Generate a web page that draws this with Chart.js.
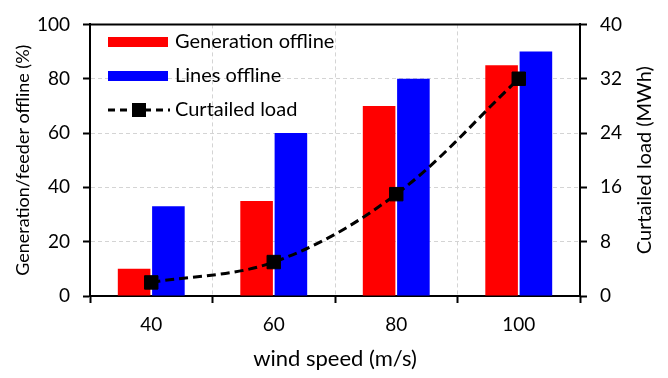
<!DOCTYPE html>
<html>
<head>
<meta charset="utf-8">
<script src="https://cdn.jsdelivr.net/npm/chart.js@4/dist/chart.umd.min.js"></script>
<style>
    html, body { margin: 0; padding: 0; background: #fff; }
    canvas { display: block; }
</style>
</head>
<body>
<canvas id="windChart" width="668" height="378"></canvas>
<script>
// data
const windSpeeds = ['40', '60', '80', '100'];
const generationOffline = [10, 35, 70, 85];   // %
const linesOffline = [33, 60, 80, 90];        // %
const curtailedLoad = [2, 5, 15, 32];         // MWh
const leftTicks = [0, 20, 40, 60, 80, 100];
const rightTicks = [0, 8, 16, 24, 32, 40];

const FONT = 'Lato';
const gridColor = '#d4d4d4';

// legend in the top left corner + right axis title + top frame line
const extrasPlugin = {
    id: 'extras',
    afterDraw(chart) {
        const ctx = chart.ctx;
        const area = chart.chartArea;
        const ds = chart.data.datasets;

        ctx.save();
        // top border of the plot
        ctx.strokeStyle = '#000';
        ctx.lineWidth = 2;
        ctx.beginPath();
        ctx.moveTo(area.left - 1, area.top);
        ctx.lineTo(area.right + 1, area.top);
        ctx.stroke();

        // legend
        ctx.font = '20px ' + FONT;
        ctx.textBaseline = 'middle';
        const lx = 108, tx = 175;
        const rows = [42, 76, 110];
        ctx.fillStyle = ds[0].backgroundColor;
        ctx.fillRect(lx, rows[0] - 5, 60, 10);
        ctx.fillStyle = ds[1].backgroundColor;
        ctx.fillRect(lx, rows[1] - 5, 60, 10);
        ctx.strokeStyle = '#000';
        ctx.lineWidth = 3;
        ctx.setLineDash([7, 5]);
        ctx.beginPath();
        ctx.moveTo(lx, rows[2]);
        ctx.lineTo(lx + 62, rows[2]);
        ctx.stroke();
        ctx.setLineDash([]);
        ctx.fillStyle = '#000';
        ctx.fillRect(lx + 24, rows[2] - 7, 14, 14);

        ctx.fillText(ds[0].label, tx, rows[0]);
        ctx.fillText(ds[1].label, tx, rows[1]);
        ctx.fillText(ds[2].label, tx, rows[2]);

        // right axis title, reading bottom to top
        ctx.font = '20px ' + FONT;
        ctx.textAlign = 'center';
        ctx.translate(645, (area.top + area.bottom) / 2);
        ctx.rotate(-Math.PI / 2);
        ctx.fillText('Curtailed load (MWh)', 0, 0);
        ctx.restore();
    }
};

const ctx = document.getElementById('windChart').getContext('2d');
const windChart = new Chart(ctx, {
    type: 'bar',
    data: {
        labels: windSpeeds,
        datasets: [
            {
                label: 'Generation offline',
                data: generationOffline,
                backgroundColor: '#ff0000',
                yAxisID: 'y',
                categoryPercentage: 0.56,
                barPercentage: 0.95,
                order: 2
            },
            {
                label: 'Lines offline',
                data: linesOffline,
                backgroundColor: '#0000ff',
                yAxisID: 'y',
                categoryPercentage: 0.56,
                barPercentage: 0.95,
                order: 2
            },
            {
                type: 'line',
                label: 'Curtailed load',
                data: curtailedLoad,
                yAxisID: 'y1',
                borderColor: '#000',
                borderWidth: 3,
                borderDash: [9, 5],
                tension: 0.35,
                pointStyle: 'rect',
                pointRadius: 9.5,
                pointBackgroundColor: '#000',
                pointBorderColor: '#000',
                pointBorderWidth: 1,
                fill: false,
                order: 1
            }
        ]
    },
    options: {
        responsive: false,
        animation: false,
        layout: { padding: { top: 13, left: 0, right: 0, bottom: 0 } },
        plugins: {
            legend: { display: false },
            tooltip: { enabled: false }
        },
        scales: {
            x: {
                grid: {
                    color: gridColor,
                    offset: true,
                    tickLength: 7,
                    tickColor: '#000',
                    tickWidth: 2
                },
                border: { color: '#000', width: 2, dash: [4, 3] },
                ticks: {
                    color: '#000',
                    font: { family: FONT, size: 19 },
                    padding: 10
                },
                title: {
                    display: true,
                    text: 'wind speed (m/s)',
                    color: '#000',
                    font: { family: FONT, size: 22 },
                    padding: { top: 0, bottom: 6 }
                },
                afterFit(scale) { scale.height = 82; }
            },
            y: {
                position: 'left',
                min: 0,
                max: 100,
                afterBuildTicks(scale) { scale.ticks = leftTicks.map(v => ({ value: v })); },
                grid: {
                    color: gridColor,
                    tickLength: 7,
                    tickColor: '#000',
                    tickWidth: 2
                },
                border: { color: '#000', width: 2, dash: [4, 3] },
                ticks: {
                    color: '#000',
                    font: { family: FONT, size: 19 },
                    padding: 13
                },
                title: {
                    display: true,
                    text: 'Generation/feeder offline (%)',
                    color: '#000',
                    font: { family: FONT, size: 18 },
                    padding: { top: 12, bottom: 0 }
                },
                afterFit(scale) { scale.width = 90; }
            },
            y1: {
                position: 'right',
                min: 0,
                max: 40,
                afterBuildTicks(scale) { scale.ticks = rightTicks.map(v => ({ value: v })); },
                grid: {
                    drawOnChartArea: false,
                    tickLength: 7,
                    tickColor: '#000',
                    tickWidth: 2
                },
                border: { color: '#000', width: 2 },
                ticks: {
                    color: '#000',
                    font: { family: FONT, size: 19 },
                    padding: 13
                },
                afterFit(scale) { scale.width = 88; }
            }
        }
    },
    plugins: [extrasPlugin]
});
</script>
</body>
</html>
